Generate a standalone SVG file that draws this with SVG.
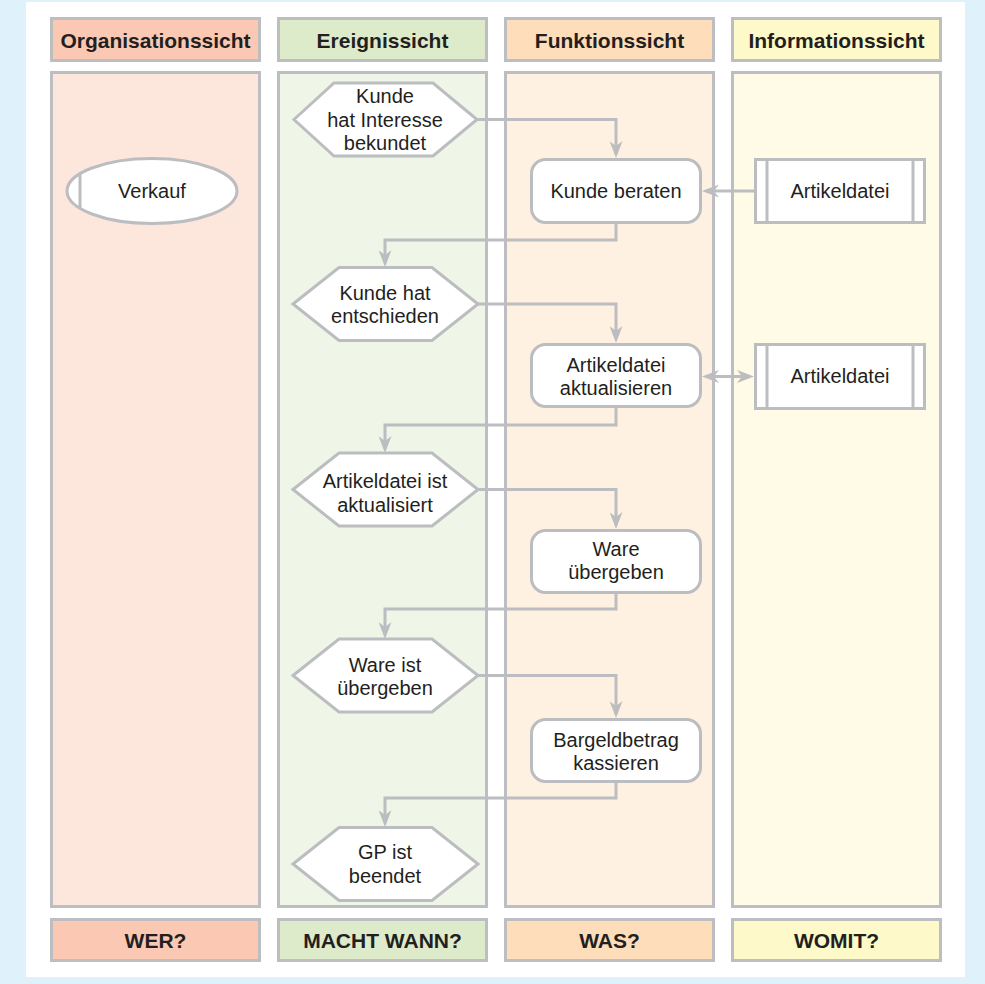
<svg xmlns="http://www.w3.org/2000/svg" width="985" height="984" viewBox="0 0 985 984">
<defs>
<style>
.col{stroke:#BDBEC1;stroke-width:3}
.hd{font-family:"Liberation Sans",Arial,sans-serif;font-weight:bold;font-size:21px;fill:#231F20;text-anchor:middle}
.t{font-family:"Liberation Sans",Arial,sans-serif;font-size:20px;fill:#231F20;text-anchor:middle}
.n{fill:#FFFFFF;stroke:#BCBDC0;stroke-width:3}
.c{fill:none;stroke:#BCBDC0;stroke-width:3}
</style>
<marker id="ah" viewBox="0 0 17 13" refX="13" refY="6.5" markerWidth="17" markerHeight="13" markerUnits="userSpaceOnUse" orient="auto-start-reverse">
<path d="M0,0 L17,6.5 L0,13 L5,6.5 Z" fill="#BCBDC0"/>
</marker>
</defs>
<rect x="0" y="0" width="985" height="984" fill="#DFF1FA"/>
<rect x="26" y="2" width="939" height="975" fill="#FFFFFF"/>

<g id="lane-organisation">
<rect class="col" x="51.5" y="18.5" width="208" height="42" fill="#FBC9B3"/>
<text class="hd" x="155.5" y="48">Organisationssicht</text>
<rect class="col" x="51.5" y="72.5" width="208" height="834" fill="#FDE7DD"/>
<rect class="col" x="51.5" y="919.5" width="208" height="41" fill="#FBC9B3"/>
<text class="hd" x="155.5" y="948">WER?</text>
</g>
<g id="lane-ereignis">
<rect class="col" x="278.5" y="18.5" width="208" height="42" fill="#DEEBCA"/>
<text class="hd" x="382.5" y="48">Ereignissicht</text>
<rect class="col" x="278.5" y="72.5" width="208" height="834" fill="#EFF5E7"/>
<rect class="col" x="278.5" y="919.5" width="208" height="41" fill="#DEEBCA"/>
<text class="hd" x="382.5" y="948">MACHT WANN?</text>
</g>
<g id="lane-funktion">
<rect class="col" x="505.5" y="18.5" width="208" height="42" fill="#FEDDBA"/>
<text class="hd" x="609.5" y="48">Funktionssicht</text>
<rect class="col" x="505.5" y="72.5" width="208" height="834" fill="#FEF1E1"/>
<rect class="col" x="505.5" y="919.5" width="208" height="41" fill="#FEDDBA"/>
<text class="hd" x="609.5" y="948">WAS?</text>
</g>
<g id="lane-information">
<rect class="col" x="732.5" y="18.5" width="208" height="42" fill="#FEF9C8"/>
<text class="hd" x="836.5" y="48">Informationssicht</text>
<rect class="col" x="732.5" y="72.5" width="208" height="834" fill="#FFFBE7"/>
<rect class="col" x="732.5" y="919.5" width="208" height="41" fill="#FEF9C8"/>
<text class="hd" x="836.5" y="948">WOMIT?</text>
</g>

<g id="connectors">
<path class="c" d="M478,119.5 H616 V154" marker-end="url(#ah)"/>
<path class="c" d="M754,191 H706" marker-end="url(#ah)"/>
<path class="c" d="M616,224 V240 H385 V263" marker-end="url(#ah)"/>
<path class="c" d="M478,304 H616 V339" marker-end="url(#ah)"/>
<path class="c" d="M706,376.5 H750" marker-start="url(#ah)" marker-end="url(#ah)"/>
<path class="c" d="M616,408 V425 H385 V449" marker-end="url(#ah)"/>
<path class="c" d="M478,489.5 H616 V525" marker-end="url(#ah)"/>
<path class="c" d="M616,594 V609 H385 V635" marker-end="url(#ah)"/>
<path class="c" d="M478,675.5 H616 V714" marker-end="url(#ah)"/>
<path class="c" d="M616,783 V798 H385 V823" marker-end="url(#ah)"/>
</g>

<g id="org-verkauf">
<ellipse class="n" cx="152" cy="191" rx="85" ry="32.5"/>
<line class="c" x1="80" y1="173" x2="80" y2="209"/>
<text class="t" x="152" y="198">Verkauf</text>
</g>

<g id="ev-interesse">
<polygon class="n" points="294,119.5 334,83 433,83 477,119.5 433,156 334,156"/>
<text class="t" x="385" y="103">Kunde</text>
<text class="t" x="385" y="127">hat Interesse</text>
<text class="t" x="385" y="150">bekundet</text>
</g>
<g id="ev-entschieden">
<polygon class="n" points="293,304 339,267.5 432,267.5 478,304 432,340.5 339,340.5"/>
<text class="t" x="385" y="300">Kunde hat</text>
<text class="t" x="385" y="323">entschieden</text>
</g>
<g id="ev-aktualisiert">
<polygon class="n" points="293,489.5 339,453 432,453 478,489.5 432,526 339,526"/>
<text class="t" x="385" y="488">Artikeldatei ist</text>
<text class="t" x="385" y="512">aktualisiert</text>
</g>
<g id="ev-uebergeben">
<polygon class="n" points="293,675.5 339,639 432,639 478,675.5 432,712 339,712"/>
<text class="t" x="385" y="672">Ware ist</text>
<text class="t" x="385" y="695">übergeben</text>
</g>
<g id="ev-beendet">
<polygon class="n" points="293,864 339,827.5 432,827.5 478,864 432,900.5 339,900.5"/>
<text class="t" x="385" y="859">GP ist</text>
<text class="t" x="385" y="883">beendet</text>
</g>

<g id="fn-beraten">
<rect class="n" x="531.5" y="159.5" width="169" height="63" rx="14"/>
<text class="t" x="616" y="198">Kunde beraten</text>
</g>
<g id="fn-aktualisieren">
<rect class="n" x="531.5" y="344.5" width="169" height="62" rx="14"/>
<text class="t" x="616" y="372">Artikeldatei</text>
<text class="t" x="616" y="395">aktualisieren</text>
</g>
<g id="fn-ware">
<rect class="n" x="531.5" y="530.5" width="169" height="62" rx="14"/>
<text class="t" x="616" y="556">Ware</text>
<text class="t" x="616" y="579">übergeben</text>
</g>
<g id="fn-kassieren">
<rect class="n" x="531.5" y="719.5" width="169" height="62" rx="14"/>
<text class="t" x="616" y="747">Bargeldbetrag</text>
<text class="t" x="616" y="770">kassieren</text>
</g>

<g id="info-artikeldatei-1">
<rect class="n" x="755.5" y="159.5" width="169" height="63"/>
<line class="c" x1="767" y1="159.5" x2="767" y2="222.5"/>
<line class="c" x1="913" y1="159.5" x2="913" y2="222.5"/>
<text class="t" x="840" y="198">Artikeldatei</text>
</g>
<g id="info-artikeldatei-2">
<rect class="n" x="755.5" y="344.5" width="169" height="64"/>
<line class="c" x1="767" y1="344.5" x2="767" y2="408.5"/>
<line class="c" x1="913" y1="344.5" x2="913" y2="408.5"/>
<text class="t" x="840" y="383">Artikeldatei</text>
</g>
</svg>
